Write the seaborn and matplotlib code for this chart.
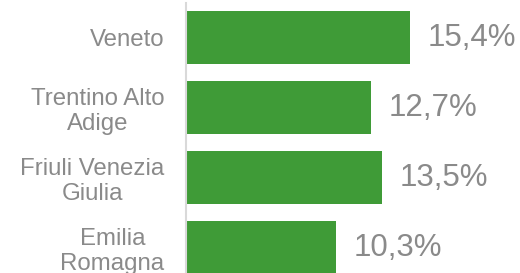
import matplotlib
matplotlib.use("Agg")
import matplotlib.pyplot as plt
import seaborn as sns
import pandas as pd

regions = ["Veneto", "Trentino Alto\nAdige", "Friuli Venezia\nGiulia", "Emilia\nRomagna"]
values = [15.4, 12.7, 13.5, 10.3]
value_labels = [f"{v:.1f}%".replace(".", ",") for v in values]

sns.set_style("white")
plt.rcParams["font.family"] = ["Liberation Sans", "DejaVu Sans"]

bar_color = "#3f9b37"
text_color = "#8a8a8a"

fig = plt.figure(figsize=(5.2, 2.73), dpi=100)
ax = fig.add_axes([186 / 520, -9.5 / 273, (520 - 186) / 520, 280 / 273])

df = pd.DataFrame({"region": regions, "value": values})
sns.barplot(data=df, x="value", y="region", orient="h", color=bar_color,
            saturation=1, width=0.76, ax=ax, edgecolor="none")

ax.set_xlim(0, 22.95)
ax.set_ylim(3.5, -0.5)
ax.set_xlabel("")
ax.set_ylabel("")
ax.xaxis.set_visible(False)
for s in ["top", "right", "bottom"]:
    ax.spines[s].set_visible(False)
ax.spines["left"].set_color("#d9d9d9")
ax.spines["left"].set_linewidth(1.5)

ax.tick_params(axis="y", length=0, pad=15.5, labelsize=17.3, labelcolor=text_color)
for lbl in ax.get_yticklabels():
    lbl.set_multialignment("center")
    lbl.set_linespacing(1.15)

ax.bar_label(ax.containers[0], labels=value_labels, padding=12.5,
             fontsize=22.5, color=text_color)

fig.savefig("out.png", dpi=100)
